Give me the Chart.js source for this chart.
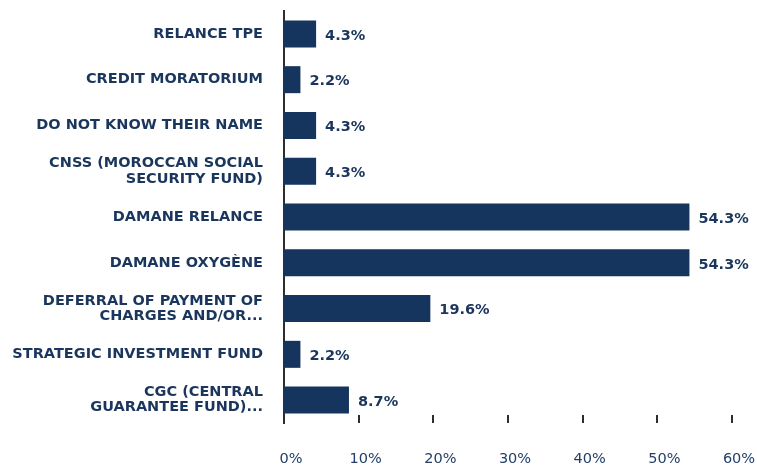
<!DOCTYPE html>
<html>
<head>
<meta charset="utf-8">
<script src="https://cdn.jsdelivr.net/npm/chart.js@4.4.1/dist/chart.umd.min.js"></script>
<style>
  html, body { margin: 0; padding: 0; background: #fff; }
  #wrap { width: 757px; height: 466px; }
</style>
</head>
<body>
<div id="wrap"><canvas id="chart"></canvas></div>
<script>
// Daten
const kategorien = [
  "RELANCE TPE",
  "CREDIT MORATORIUM",
  "DO NOT KNOW THEIR NAME",
  ["CNSS (MOROCCAN SOCIAL", "SECURITY FUND)"],
  "DAMANE RELANCE",
  "DAMANE OXYGÈNE",
  ["DEFERRAL OF PAYMENT OF", "CHARGES AND/OR..."],
  "STRATEGIC INVESTMENT FUND",
  ["CGC (CENTRAL", "GUARANTEE FUND)..."]
];
const anteile = [4.3, 2.2, 4.3, 4.3, 54.3, 54.3, 19.6, 2.2, 8.7];
const xTicks = [0, 10, 20, 30, 40, 50, 60];

const balkenFarbe = "#15355e";
const textFarbe = "#1b365d";

// Prozentwerte rechts neben den Balken
const wertLabels = {
  id: "wertLabels",
  afterDatasetsDraw(chart) {
    const ctx = chart.ctx;
    const meta = chart.getDatasetMeta(0);
    ctx.save();
    ctx.font = "bold 14.5px 'DejaVu Sans'";
    ctx.fillStyle = textFarbe;
    ctx.textAlign = "left";
    ctx.textBaseline = "middle";
    meta.data.forEach((bar, i) => {
      ctx.fillText(anteile[i].toFixed(1) + "%", bar.x + 9, bar.y + 2);
    });
    ctx.restore();
  }
};

// kleine Striche an der x-Achse (innerhalb der Fläche, unten)
const tickStriche = {
  id: "tickStriche",
  afterDraw(chart) {
    const ctx = chart.ctx;
    const x = chart.scales.x;
    const unten = chart.chartArea.bottom;
    ctx.save();
    ctx.strokeStyle = "#2e2e2e";
    ctx.lineWidth = 2;
    xTicks.forEach(v => {
      if (v === 0) return;
      const px = Math.round(x.getPixelForValue(v));
      ctx.beginPath();
      ctx.moveTo(px, unten - 8);
      ctx.lineTo(px, unten);
      ctx.stroke();
    });
    ctx.restore();
  }
};

new Chart(document.getElementById("chart").getContext("2d"), {
  type: "bar",
  data: {
    labels: kategorien,
    datasets: [{
      data: anteile,
      backgroundColor: balkenFarbe,
      borderWidth: 0,
      barPercentage: 0.59,
      categoryPercentage: 1
    }]
  },
  options: {
    indexAxis: "y",
    responsive: true,
    maintainAspectRatio: false,
    animation: false,
    devicePixelRatio: 1,
    layout: { padding: { top: 11, right: 25, bottom: 0, left: 0 } },
    scales: {
      x: {
        min: 0,
        max: 60,
        afterFit: s => {
          s.height = 43;
          s.paddingLeft = 0;
          s.paddingRight = 0;
        },
        afterBuildTicks: s => { s.ticks = xTicks.map(v => ({ value: v })); },
        ticks: {
          callback: v => v + "%",
          padding: 28,
          labelOffset: 7,
          maxRotation: 0,
          color: "#22406a",
          font: { family: "'DejaVu Sans'", size: 14.5 }
        },
        grid: { display: false, drawTicks: false },
        border: { display: false }
      },
      y: {
        afterFit: s => {
          s.width = 284;
          s.paddingTop = 0;
          s.paddingBottom = 0;
        },
        ticks: {
          padding: 21,
          color: textFarbe,
          font: { family: "'DejaVu Sans'", size: 14.5, weight: "bold", lineHeight: 1.04 }
        },
        grid: { display: false, drawTicks: false },
        border: { display: true, color: "#2e2e2e", width: 2 }
      }
    },
    plugins: {
      legend: { display: false },
      tooltip: { enabled: false }
    }
  },
  plugins: [wertLabels, tickStriche]
});
</script>
</body>
</html>
